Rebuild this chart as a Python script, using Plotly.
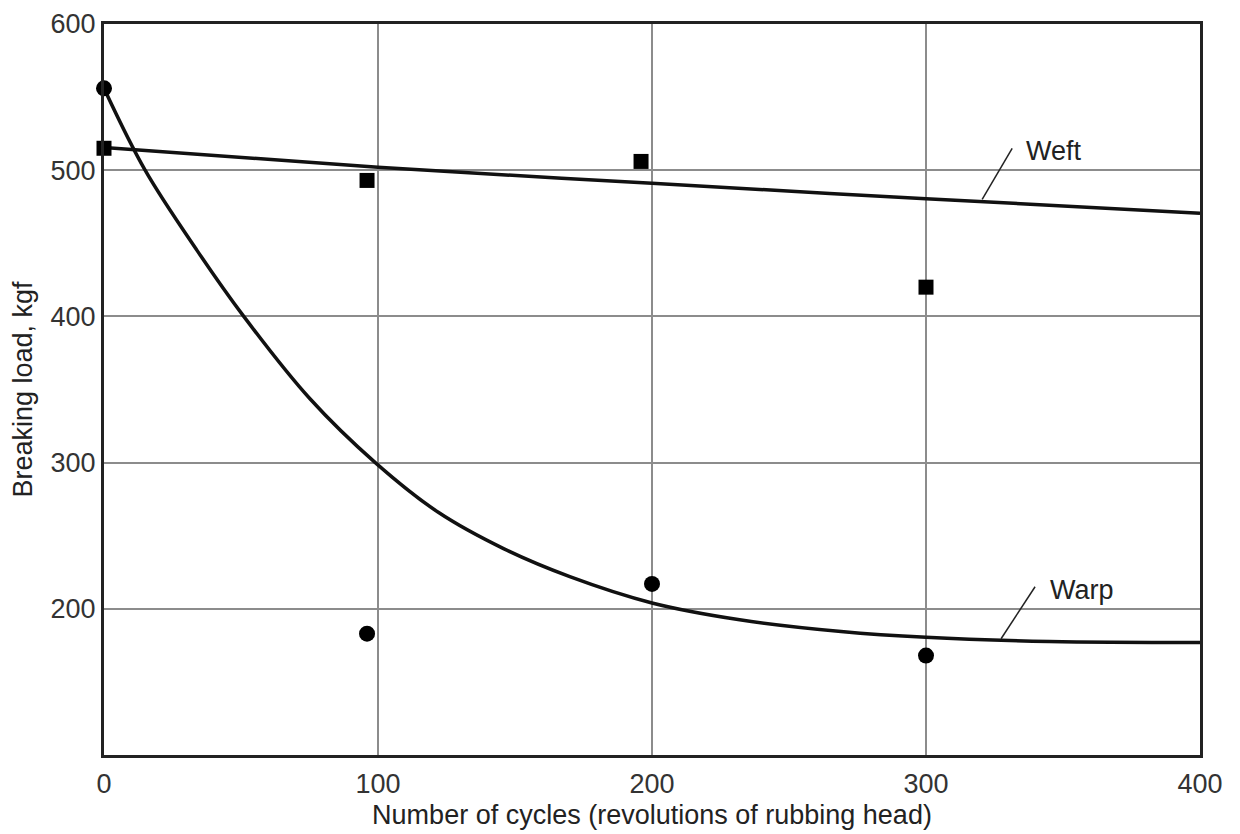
import plotly.graph_objects as go

# Measured data points
warp_x = [0, 96, 200, 300]
warp_y = [556, 183, 217, 168]
weft_x = [0, 96, 196, 300]
weft_y = [515, 493, 506, 420]

# Fitted curves
warp_curve_x = [0, 15, 34, 51, 75, 99, 122, 146, 170, 200, 232, 269, 300, 345, 400]
warp_curve_y = [556, 500, 445, 400, 344, 300, 266, 241, 222, 204, 192.5, 184.5, 180.5, 177.7, 177]
weft_curve_x = [0, 100, 200, 300, 400]
weft_curve_y = [515.5, 502, 491, 480.5, 470.5]

x_ticks = [0, 100, 200, 300, 400]
y_ticks = [200, 300, 400, 500, 600]

FONT = "Liberation Sans, Arial, sans-serif"

fig = go.Figure()
fig.add_trace(go.Scatter(x=warp_curve_x, y=warp_curve_y, mode="lines",
                         line=dict(color="#111", width=3.5, shape="spline", smoothing=1.0),
                         hoverinfo="skip", cliponaxis=False))
fig.add_trace(go.Scatter(x=weft_curve_x, y=weft_curve_y, mode="lines",
                         line=dict(color="#111", width=3.5, shape="spline", smoothing=1.0),
                         hoverinfo="skip", cliponaxis=False))
fig.add_trace(go.Scatter(x=warp_x, y=warp_y, mode="markers", name="Warp",
                         marker=dict(symbol="circle", size=16, color="#000"),
                         cliponaxis=False))
fig.add_trace(go.Scatter(x=weft_x, y=weft_y, mode="markers", name="Weft",
                         marker=dict(symbol="square", size=15, color="#000"),
                         cliponaxis=False))

# Leader lines (anchored on curves, offset in pixels)
leaders = [(320.5, 480, 30, 51), (327.4, 179.5, 34, 52)]
for lx, ly, dx, dy in leaders:
    fig.add_shape(type="line", xref="x", yref="y",
                  xsizemode="pixel", ysizemode="pixel",
                  xanchor=lx, yanchor=ly, x0=0, y0=0, x1=dx, y1=dy,
                  line=dict(color="#222", width=1.5))

fig.add_annotation(x=335.8, y=513.3, text="Weft", showarrow=False,
                   xanchor="left", yanchor="middle", font=dict(size=27, color="#222", family=FONT))
fig.add_annotation(x=344.5, y=213, text="Warp", showarrow=False,
                   xanchor="left", yanchor="middle", font=dict(size=27, color="#222", family=FONT))

axis_common = dict(showgrid=True, gridcolor="#8c8c8c", gridwidth=2,
                   showline=True, linecolor="#222", linewidth=3, mirror=True,
                   zeroline=False, ticks="", automargin=False,
                   tickfont=dict(size=27, color="#333", family=FONT))

fig.update_xaxes(range=[0, 400], tickvals=x_ticks, ticktext=[str(v) for v in x_ticks],
                 ticklabelstandoff=3,
                 title=dict(text="Number of cycles (revolutions of rubbing head)",
                            font=dict(size=27, color="#222", family=FONT), standoff=7),
                 **axis_common)
fig.update_yaxes(range=[100, 600], tickvals=y_ticks, ticktext=[str(v) for v in y_ticks],
                 ticklabelstandoff=0,
                 title=dict(text="Breaking load, kgf",
                            font=dict(size=27, color="#222", family=FONT), standoff=12),
                 **axis_common)

# The page body adds an 8 px offset, so margins are shifted to compensate
fig.update_layout(width=1240, height=834, showlegend=False,
                  paper_bgcolor="white", plot_bgcolor="white",
                  margin=dict(l=96, r=48, t=16, b=87, autoexpand=False),
                  font=dict(family=FONT))

fig.write_html("out.html")
